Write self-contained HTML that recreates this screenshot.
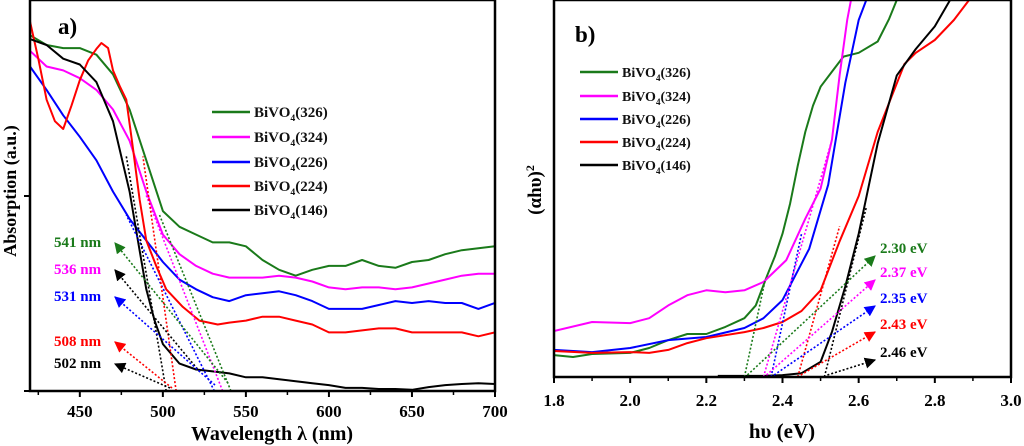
<!DOCTYPE html>
<html><head><meta charset="utf-8"><style>
body{margin:0;background:#fff}
svg{display:block;font-family:"Liberation Serif",serif;font-weight:bold}
</style></head><body>
<svg id="s" width="1024" height="446" viewBox="0 0 1024 446" xmlns="http://www.w3.org/2000/svg"></svg>
<script>
// ---- Panel a data ----
const aWl = [420,430,440,450,460,470,480,490,500,510,520,530,540,550,560,570,580,590,600,610,620,630,640,650,660,670,680,690,700];
const aGreen = [0.91,0.885,0.877,0.877,0.86,0.81,0.72,0.59,0.46,0.42,0.40,0.38,0.38,0.37,0.335,0.31,0.295,0.31,0.32,0.32,0.335,0.32,0.315,0.33,0.335,0.35,0.36,0.365,0.37];
const aMagenta = [0.87,0.83,0.82,0.80,0.77,0.72,0.64,0.51,0.40,0.35,0.32,0.30,0.29,0.29,0.29,0.295,0.29,0.28,0.265,0.26,0.265,0.265,0.26,0.265,0.275,0.285,0.295,0.30,0.30];
const aBlue = [0.83,0.77,0.705,0.65,0.59,0.51,0.44,0.385,0.33,0.285,0.26,0.24,0.23,0.245,0.25,0.255,0.245,0.23,0.21,0.21,0.21,0.22,0.23,0.225,0.23,0.225,0.225,0.21,0.225];
const aRedWl = [420,425,430,435,440,445,450,455,460,463,467,470,474,478,482,486,490,496,502,512,522,533,540,550,560,570,580,590,600,610,620,630,640,650,660,670,680,690,700];
const aRed = [0.945,0.85,0.745,0.69,0.67,0.73,0.795,0.845,0.875,0.89,0.877,0.82,0.78,0.745,0.62,0.49,0.385,0.32,0.26,0.215,0.18,0.17,0.175,0.18,0.19,0.19,0.18,0.17,0.15,0.15,0.155,0.16,0.16,0.15,0.15,0.15,0.15,0.14,0.15];
const aBlackWl = [420,430,440,450,460,470,480,485,490,495,500,510,520,530,540,550,560,570,580,590,600,610,620,630,640,650,660,670,680,690,700];
const aBlack = [0.90,0.885,0.85,0.835,0.79,0.69,0.51,0.385,0.26,0.18,0.12,0.07,0.055,0.05,0.045,0.035,0.035,0.03,0.025,0.02,0.015,0.008,0.008,0.005,0.005,0.003,0.01,0.015,0.018,0.02,0.018];
const aEdges = [541,536,531,508,502];
const aEdgeTop = [[498,0.45],[490,0.50],[478,0.45],[488,0.60],[478,0.60]];
const aTicks = [450,500,550,600,650,700];
// ---- Panel b data ----
const bGreenE = [1.8,1.85,1.9,2.0,2.05,2.1,2.15,2.2,2.25,2.3,2.33,2.36,2.38,2.4,2.42,2.44,2.46,2.48,2.5,2.53,2.56,2.6,2.65,2.68,2.7];
const bGreen = [0.058,0.053,0.061,0.064,0.077,0.098,0.114,0.114,0.133,0.156,0.19,0.27,0.32,0.38,0.46,0.56,0.65,0.72,0.77,0.81,0.85,0.86,0.89,0.95,1.0];
const bMagE = [1.8,1.9,2.0,2.05,2.1,2.15,2.2,2.25,2.3,2.35,2.41,2.46,2.5,2.53,2.55,2.57,2.58];
const bMag = [0.122,0.146,0.143,0.156,0.19,0.217,0.23,0.225,0.23,0.252,0.31,0.42,0.5,0.63,0.8,0.947,1.0];
const bBlueE = [1.8,1.9,2.0,2.1,2.2,2.3,2.35,2.4,2.47,2.52,2.565,2.6,2.62];
const bBlue = [0.072,0.066,0.077,0.098,0.106,0.13,0.156,0.204,0.34,0.51,0.78,0.947,1.0];
const bRedE = [1.8,1.9,2.0,2.05,2.1,2.15,2.2,2.3,2.35,2.4,2.45,2.5,2.55,2.6,2.65,2.72,2.75,2.8,2.85,2.89];
const bRed = [0.069,0.064,0.066,0.064,0.072,0.09,0.103,0.119,0.13,0.146,0.175,0.23,0.36,0.48,0.65,0.83,0.86,0.894,0.947,1.0];
const bBlackE = [2.23,2.3,2.35,2.4,2.45,2.5,2.53,2.565,2.6,2.65,2.7,2.75,2.8,2.84];
const bBlack = [0.003,0.003,0.003,0.005,0.01,0.04,0.12,0.24,0.38,0.62,0.8,0.87,0.93,1.0];
const bEdges = [2.30,2.37,2.35,2.43,2.46];
const bEdgePlot = [2.30,2.35,2.37,2.44,2.51];
const bEdgeTop = [[2.355,0.26],[2.53,0.63],[2.45,0.38],[2.55,0.40],[2.62,0.45]];
const bTicks = [1.8,2.0,2.2,2.4,2.6,2.8,3.0];

const NS="http://www.w3.org/2000/svg", S=document.getElementById('s');
function mk(t,a,p){const e=document.createElementNS(NS,t);for(const k in a)e.setAttribute(k,a[k]);(p||S).appendChild(e);return e;}
const COLS=['#1a7a1a','#ff00ff','#0000ff','#ff0000','#000000'];
const NAMES=['BiVO4(326)','BiVO4(324)','BiVO4(226)','BiVO4(224)','BiVO4(146)'];
const ax=v=>30+(v-420)/280*465, ay=v=>391-v*391;
const bx=v=>554+(v-1.8)/1.2*457, by=v=>377-v*377;

mk('defs',{}).innerHTML=COLS.map((c,i)=>`<marker id="ar${i}" viewBox="0 0 10 10" refX="9" refY="5" markerWidth="7" markerHeight="7" orient="auto"><path d="M0,0L10,5L0,10z" fill="${c}"/></marker>`).join('')+
 '<clipPath id="ca"><rect x="30" y="0" width="465" height="391"/></clipPath><clipPath id="cb"><rect x="554" y="0" width="457" height="377"/></clipPath>';

function legend(x,ys,size){
  ys.forEach((y,i)=>{
    const g=mk('g',{});
    
    
    mk('line',{x1:x,y1:y,x2:x+38,y2:y,stroke:COLS[i],'stroke-width':2.5},g);
    const t=mk('text',{x:x+42,y:y+5,'font-size':size,fill:'#111'},g);
    t.innerHTML=`BiVO<tspan font-size="${size*0.65}" dy="4">4</tspan><tspan dy="-4">${NAMES[i].slice(5)}</tspan>`;
  });
}

// ---- Panel a ----
const ga=mk('g',{'clip-path':'url(#ca)'});
[[aWl,aGreen],[aWl,aMagenta],[aWl,aBlue],[aRedWl,aRed],[aBlackWl,aBlack]].forEach((d,i)=>{
  const p=mk('path',{d:d[0].map((x,j)=>(j?'L':'M')+ax(x).toFixed(1)+','+ay(d[1][j]).toFixed(1)).join(''),fill:'none',stroke:COLS[i],'stroke-width':2,'stroke-linejoin':'round'},ga);
  
  
});
aEdges.forEach((e,i)=>{
  const l=mk('line',{x1:ax(e),y1:ay(0),x2:ax(aEdgeTop[i][0]),y2:ay(aEdgeTop[i][1]),stroke:COLS[i],'stroke-width':1.6,'stroke-dasharray':'2,2'},ga);
  
  
});
const aLblY=[242,269,296,341,363];
const aArrowCol=[0,4,2,3,4];
const aArrowStart=[[228,383],[200,372],[215,385],[172,388],[170,388]];
aEdges.forEach((e,i)=>{
  const c=aArrowCol[i];
  const l=mk('line',{x1:aArrowStart[i][0],y1:aArrowStart[i][1],x2:115,y2:aLblY[i]+1,stroke:COLS[c],'stroke-width':1.6,'stroke-dasharray':'2,2','marker-end':`url(#ar${c})`});
  
  
  const t=mk('text',{x:54,y:aLblY[i]+5,'font-size':15,fill:COLS[i]});
  t.textContent=e+' nm';
  
  
});
mk('rect',{x:30,y:0,width:465,height:391,fill:'none',stroke:'#000','stroke-width':2.5});
aTicks.forEach(v=>{
  mk('line',{x1:ax(v),y1:391,x2:ax(v),y2:397,stroke:'#000','stroke-width':2});
  mk('line',{x1:ax(v-25),y1:391,x2:ax(v-25),y2:395,stroke:'#000','stroke-width':1.5});
  const t=mk('text',{x:ax(v),y:417,'font-size':17,'text-anchor':'middle'});t.textContent=v;
  
  
});
mk('line',{x1:24,y1:196,x2:30,y2:196,stroke:'#000','stroke-width':2});
mk('line',{x1:24,y1:391,x2:30,y2:391,stroke:'#000','stroke-width':2});
legend(212,[112,137,162,186,210],15);
let t=mk('text',{x:58,y:34,'font-size':23});t.textContent='a)';
t=mk('text',{x:272,y:440,'font-size':20,'text-anchor':'middle'});t.textContent='Wavelength λ (nm)';
t=mk('text',{x:0,y:0,'font-size':18,'text-anchor':'middle',transform:'translate(16,191) rotate(-90)'});t.textContent='Absorption (a.u.)';

// ---- Panel b ----
const gb=mk('g',{'clip-path':'url(#cb)'});
[[bGreenE,bGreen],[bMagE,bMag],[bBlueE,bBlue],[bRedE,bRed],[bBlackE,bBlack]].forEach((d,i)=>{
  const p=mk('path',{d:d[0].map((x,j)=>(j?'L':'M')+bx(x).toFixed(1)+','+by(d[1][j]).toFixed(1)).join(''),fill:'none',stroke:COLS[i],'stroke-width':2,'stroke-linejoin':'round'},gb);
  
  
});
bEdgePlot.forEach((e,i)=>{
  const l=mk('line',{x1:bx(e),y1:by(0),x2:bx(bEdgeTop[i][0]),y2:by(bEdgeTop[i][1]),stroke:COLS[i],'stroke-width':1.6,'stroke-dasharray':'2,2'},gb);
  
  
});
const bLblY=[248,272,298,324,352];
bEdges.forEach((e,i)=>{
  const l=mk('line',{x1:bx(bEdgePlot[i])+3,y1:375,x2:875,y2:bLblY[i]+8,stroke:COLS[i],'stroke-width':1.6,'stroke-dasharray':'2,2','marker-end':`url(#ar${i})`});
  
  
  const t=mk('text',{x:880,y:bLblY[i]+5,'font-size':15,fill:COLS[i]});
  t.textContent=e.toFixed(2)+' eV';
  
  
});
mk('rect',{x:554,y:0,width:457,height:377,fill:'none',stroke:'#000','stroke-width':2.5});
bTicks.forEach(v=>{
  mk('line',{x1:bx(v),y1:377,x2:bx(v),y2:383,stroke:'#000','stroke-width':2});
  if(v>1.85) mk('line',{x1:bx(v-0.1),y1:377,x2:bx(v-0.1),y2:381,stroke:'#000','stroke-width':1.5});
  const t=mk('text',{x:bx(v),y:406,'font-size':17,'text-anchor':'middle'});t.textContent=v.toFixed(1);
  
  
});
legend(580,[72,96,119,142,165],14);
t=mk('text',{x:575,y:42,'font-size':23});t.textContent='b)';
t=mk('text',{x:782,y:438,'font-size':21,'text-anchor':'middle'});t.textContent='hυ (eV)';
t=mk('text',{x:0,y:0,'font-size':19,'text-anchor':'middle',transform:'translate(541,190) rotate(-90)'});t.innerHTML='(αhυ)<tspan font-size="12" dy="-7">2</tspan>';
</script>
</body></html>
